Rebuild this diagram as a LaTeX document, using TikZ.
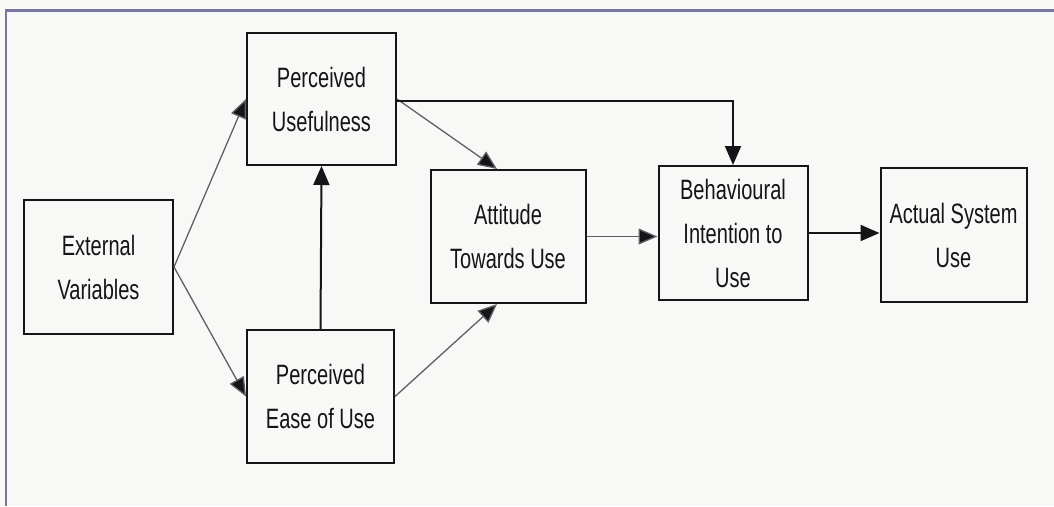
\documentclass[tikz,border=0pt]{standalone}
\usepackage{fontspec}
\setmainfont{Liberation Sans}
\newfontfamily\narrowsans[FakeStretch=0.715]{Liberation Sans}
\usetikzlibrary{arrows.meta}
\definecolor{pagebg}{RGB}{248,248,246}
\definecolor{framecol}{RGB}{118,118,160}
\definecolor{inkcol}{RGB}{22,20,24}
\definecolor{faintink}{RGB}{95,95,100}
\tikzset{
  construct/.style={draw=inkcol, line width=2pt, fill=none, align=center,
    inner sep=0pt, text=inkcol,
    font=\narrowsans\fontsize{28}{44}\selectfont},
  tip/.style={-{Triangle[length=19pt,width=16pt,fill=inkcol]}},
  strong/.style={tip, draw=inkcol, line width=2pt},
  weak/.style={tip, draw=faintink, line width=1.3pt},
}
\begin{document}
\begin{tikzpicture}[x=1pt,y=-1pt]
  % page and frame
  \fill[pagebg] (0,0) rectangle (1054,506);
  \useasboundingbox (0,0) rectangle (1054,506);
  \draw[framecol, line width=2.4pt] (6,506) -- (6,10.5) -- (1054,10.5);

  % constructs of the model
  \node[construct, minimum width=149pt, minimum height=134pt] (ev)   at (98.5,267)  {External\\Variables};
  \node[construct, minimum width=149pt, minimum height=132pt] (pu)   at (321.5,99)  {Perceived\\Usefulness};
  \node[construct, minimum width=147pt, minimum height=133pt] (peou) at (320.5,396.5) {Perceived\\Ease of Use};
  \node[construct, minimum width=155pt, minimum height=133pt] (atu)  at (508,236.5) {Attitude\\Towards Use};
  \node[construct, minimum width=149pt, minimum height=134pt] (bi)   at (733,233)   {Behavioural\\Intention to\\Use};
  \node[construct, minimum width=146pt, minimum height=134pt] (asu)  at (953.5,235) {Actual System\\Use};

  % relationships
  \draw[weak] (ev.east) -- (pu.west);
  \draw[weak] (ev.east) -- (peou.west);
  \draw[strong] (peou.north) -- (pu.south);
  \draw[weak] (pu.east) -- ([xshift=-11pt]atu.north);
  \draw[weak] (peou.east) -- ([xshift=-11pt]atu.south);
  \draw[strong] ([yshift=-2pt]pu.east) -| (bi.north);
  \draw[weak] (atu.east) -- (atu.east -| bi.west);
  \draw[strong] (bi.east) -- (bi.east -| asu.west);
\end{tikzpicture}
\end{document}
